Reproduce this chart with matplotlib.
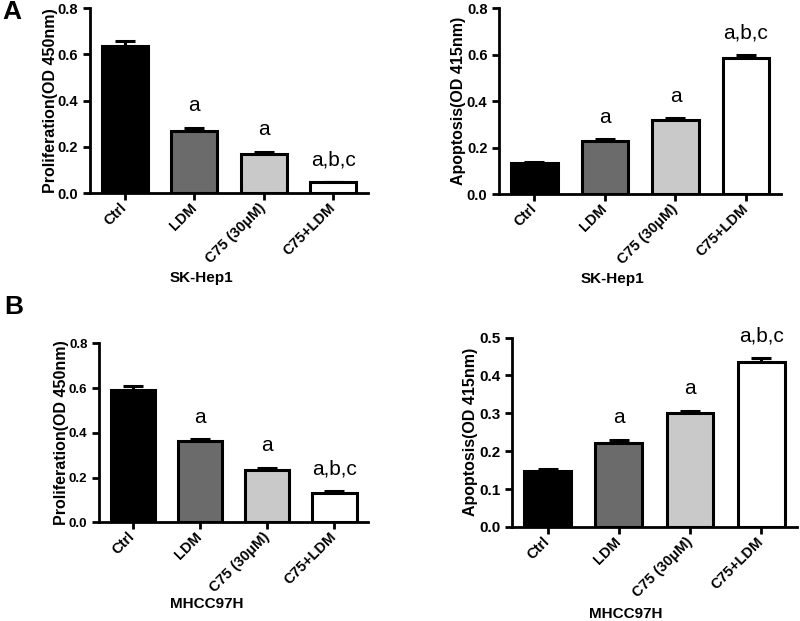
import matplotlib
matplotlib.use('Agg')
import matplotlib.pyplot as plt
import matplotlib.transforms as mtransforms

plt.rcParams['font.family'] = ['Liberation Sans', 'DejaVu Sans']

groups = ['Ctrl', 'LDM', 'C75 (30μM)', 'C75+LDM']
fills = ['#000000', '#6b6b6b', '#c9c9c9', '#ffffff']
marks = ['', 'a', 'a', 'a,b,c']

# SK-Hep1
prol_sk = [0.636, 0.270, 0.171, 0.050]
prol_sk_err = [0.020, 0.012, 0.008, 0.0]
apop_sk = [0.135, 0.227, 0.318, 0.586]
apop_sk_err = [0.004, 0.008, 0.008, 0.011]

# MHCC97H
prol_mh = [0.592, 0.363, 0.236, 0.132]
prol_mh_err = [0.018, 0.009, 0.008, 0.007]
apop_mh = [0.148, 0.223, 0.302, 0.436]
apop_mh_err = [0.004, 0.007, 0.005, 0.011]


def panel(ax, vals, errs, ylabel, xlabel, ymax, ystep, ylab_x, tsize):
    x = range(len(groups))
    ax.bar(x, vals, width=0.66, color=fills, edgecolor='black', linewidth=2.2, zorder=2)
    ax.errorbar(x, vals, yerr=[[0] * len(errs), errs], fmt='none', ecolor='black',
                elinewidth=2.2, capsize=7, capthick=2.2, zorder=1)
    for i, m in enumerate(marks):
        if m:
            ax.annotate(m, (i, vals[i] + errs[i]), xytext=(0, 9), textcoords='offset points',
                        ha='center', va='bottom', fontsize=15)
    ax.set_xlim(-0.5, 3.5)
    ax.set_ylim(0, ymax)
    n = int(round(ymax / ystep))
    ax.set_yticks([k * ystep for k in range(n + 1)])
    ax.set_yticklabels(['%.1f' % (k * ystep) for k in range(n + 1)], fontweight='bold', fontsize=tsize)
    ax.set_xticks(list(x))
    ax.set_xticklabels(groups, rotation=45, ha='right', va='center', rotation_mode='anchor',
                       fontweight='bold', fontsize=10.5)
    shift = mtransforms.ScaledTranslation(4 / 100, 0, fig.dpi_scale_trans)
    for lab in ax.get_xticklabels():
        lab.set_transform(lab.get_transform() + shift)
    ax.tick_params(axis='x', pad=4)
    for s in ['top', 'right']:
        ax.spines[s].set_visible(False)
    for s in ['left', 'bottom']:
        ax.spines[s].set_linewidth(2)
    ax.tick_params(width=2, length=5, direction='out')
    ax.set_ylabel(ylabel, fontweight='bold', fontsize=11.5)
    ax.set_xlabel(xlabel, fontweight='bold', fontsize=11)
    ax.xaxis.set_label_coords(0.40, -0.42)
    ax.yaxis.set_label_coords(ylab_x, 0.5)


fig = plt.figure(figsize=(8, 6.21), dpi=100)
ax1 = fig.add_axes([0.1125, 0.689, 0.3475, 0.298])
ax2 = fig.add_axes([0.624, 0.6876, 0.3525, 0.2995])
ax3 = fig.add_axes([0.124, 0.159, 0.336, 0.288])
ax4 = fig.add_axes([0.640, 0.1514, 0.356, 0.305])

panel(ax1, prol_sk, prol_sk_err, 'Proliferation(OD 450nm)', 'SK-Hep1', 0.8, 0.2, -0.115, 10.5)
panel(ax2, apop_sk, apop_sk_err, 'Apoptosis(OD 415nm)', 'SK-Hep1', 0.8, 0.2, -0.118, 10.5)
panel(ax3, prol_mh, prol_mh_err, 'Proliferation(OD 450nm)', 'MHCC97H', 0.8, 0.2, -0.112, 9.5)
panel(ax4, apop_mh, apop_mh_err, 'Apoptosis(OD 415nm)', 'MHCC97H', 0.5, 0.1, -0.118, 11)

fig.text(0.003, 0.981, 'A', fontsize=19, fontweight='bold', va='center')
fig.text(0.005, 0.506, 'B', fontsize=19, fontweight='bold', va='center')

fig.savefig('out.png', dpi=100, facecolor='white')
